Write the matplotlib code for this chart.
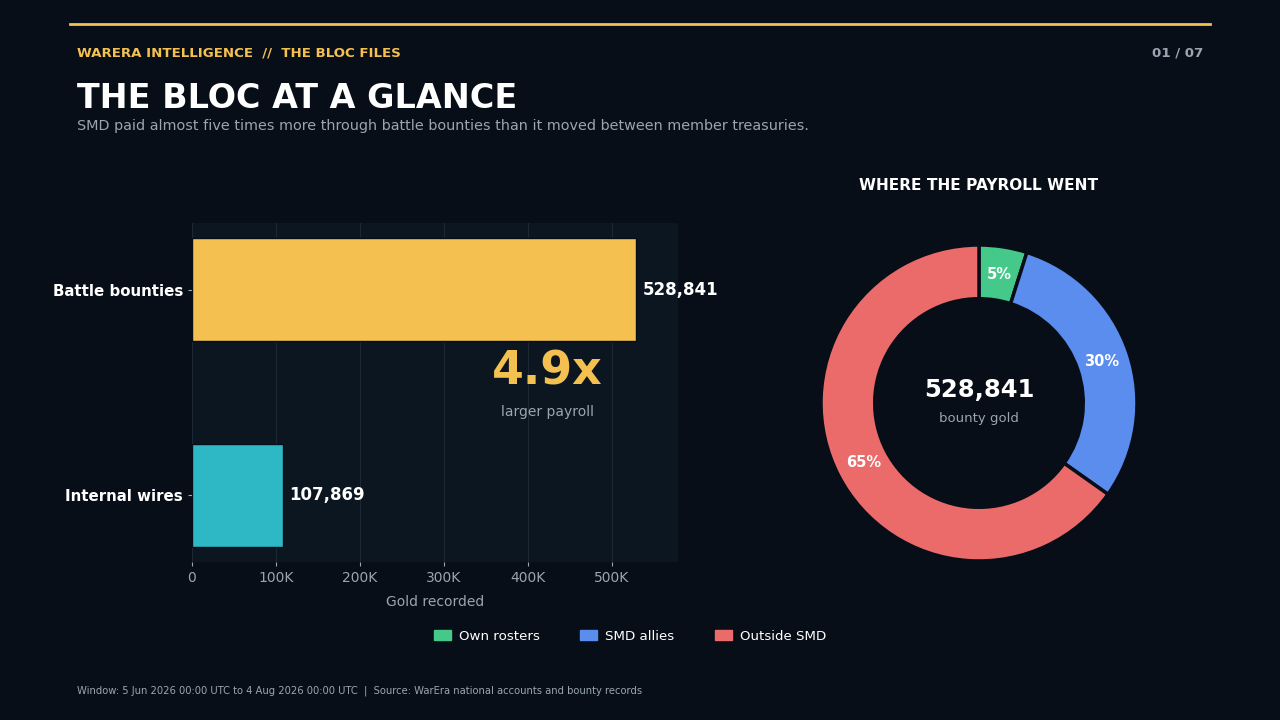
import matplotlib
matplotlib.use("Agg")
import matplotlib.pyplot as plt
from matplotlib.patches import Patch

# data
bar_labels = ["Battle bounties", "Internal wires"]
bar_values = [528841, 107869]
bar_colors = ["#F4C150", "#2EB8C6"]

split_labels = ["Own rosters", "SMD allies", "Outside SMD"]
split_shares = [4.9, 29.9, 65.2]
split_colors = ["#45C98A", "#5B8DEF", "#EB6B6A"]

x_ticks = [0, 100000, 200000, 300000, 400000, 500000]
x_tick_labels = ["0", "100K", "200K", "300K", "400K", "500K"]

BG = "#070E17"
PANEL = "#0B1621"
GRID = "#1C2733"
MUTED = "#9AA5B1"
GOLD = "#F4C150"
W, H = 1280, 720

plt.rcParams["font.family"] = ["DejaVu Sans"]
fig = plt.figure(figsize=(12.8, 7.2), dpi=100, facecolor=BG)


def fx(px):
    return px / W


def fy(py):
    return 1 - py / H


# header
fig.add_artist(plt.Line2D([fx(70), fx(1210)], [fy(24), fy(24)], color=GOLD, lw=2))
fig.text(fx(77), fy(53), "WARERA INTELLIGENCE  //  THE BLOC FILES", color=GOLD,
         fontsize=9.6, fontweight="bold", va="center")
fig.text(fx(1203), fy(53), "01 / 07", color=MUTED, fontsize=9.6, fontweight="bold",
         va="center", ha="right")
fig.text(fx(77), fy(98), "THE BLOC AT A GLANCE", color="white", fontsize=24,
         fontweight="bold", va="center")
fig.text(fx(77), fy(126), "SMD paid almost five times more through battle bounties than it moved between member treasuries.",
         color=MUTED, fontsize=10.4, va="center")

# bar panel
ax = fig.add_axes([fx(192), fy(562), 486 / W, 339 / H])
ax.set_facecolor(PANEL)
ypos = list(range(len(bar_values)))
ax.barh(ypos, bar_values, height=0.5, color=bar_colors, edgecolor=BG, linewidth=1, zorder=3)
ax.set_xlim(0, max(bar_values) * 1.095)
ax.set_ylim(1.325, -0.325)
ax.set_yticks(ypos)
ax.set_yticklabels(bar_labels, color="white", fontsize=10.8, fontweight="bold")
ax.set_xticks(x_ticks)
ax.set_xticklabels(x_tick_labels, color=MUTED, fontsize=10)
ax.tick_params(axis="both", colors=MUTED, length=3, width=0.8)
for lbl in ax.get_yticklabels():
    lbl.set_color("white")
ax.grid(axis="x", color=GRID, lw=0.8, zorder=0)
for s in ax.spines.values():
    s.set_visible(False)
ax.set_xlabel("Gold recorded", color=MUTED, fontsize=10, labelpad=7)
for y, v in zip(ypos, bar_values):
    ax.text(v + max(bar_values) * 0.015, y, f"{v:,}", color="white", fontsize=12,
            fontweight="bold", va="center", ha="left", zorder=4)
ratio = bar_values[0] / bar_values[1]
ax.text(max(bar_values) * 0.8, 0.4, f"{ratio:.1f}x", color=GOLD, fontsize=33,
        fontweight="bold", ha="center", va="center", zorder=4)
ax.text(max(bar_values) * 0.8, 0.595, "larger payroll", color=MUTED, fontsize=10,
        ha="center", va="center", zorder=4)

# donut
ax2 = fig.add_axes([fx(979 - 158), fy(403 + 158), 316 / W, 316 / H])
ax2.set_facecolor(BG)
wedges, _, autotexts = ax2.pie(split_shares, colors=split_colors, startangle=90, counterclock=False,
                               radius=1, autopct=lambda p: f"{p:.0f}%", pctdistance=0.82,
                               wedgeprops=dict(width=0.34, edgecolor=BG, linewidth=2.5),
                               textprops=dict(color="white", fontsize=10.5, fontweight="bold"))
ax2.set_xlim(-1, 1)
ax2.set_ylim(-1, 1)
ax2.text(0, 0.08, f"{bar_values[0]:,}", color="white", fontsize=17.5, fontweight="bold",
         ha="center", va="center")
ax2.text(0, -0.095, "bounty gold", color=MUTED, fontsize=9.5, ha="center", va="center")
fig.text(fx(979), fy(185), "WHERE THE PAYROLL WENT", color="white", fontsize=11.1,
         fontweight="bold", ha="center", va="center")

# legend
handles = [Patch(facecolor=c, edgecolor=c, label=l) for c, l in zip(split_colors, split_labels)]
fig.legend(handles=handles, loc="center", bbox_to_anchor=(fx(630), fy(636)), ncol=3,
           frameon=False, fontsize=9.6, labelcolor="white", handlelength=1.3,
           handleheight=0.7, columnspacing=3.0, handletextpad=0.6)

# footer
fig.text(fx(77), fy(691), "Window: 5 Jun 2026 00:00 UTC to 4 Aug 2026 00:00 UTC  |  Source: WarEra national accounts and bounty records",
         color=MUTED, fontsize=7.2, va="center")

fig.savefig("out.png", dpi=100, facecolor=BG)
